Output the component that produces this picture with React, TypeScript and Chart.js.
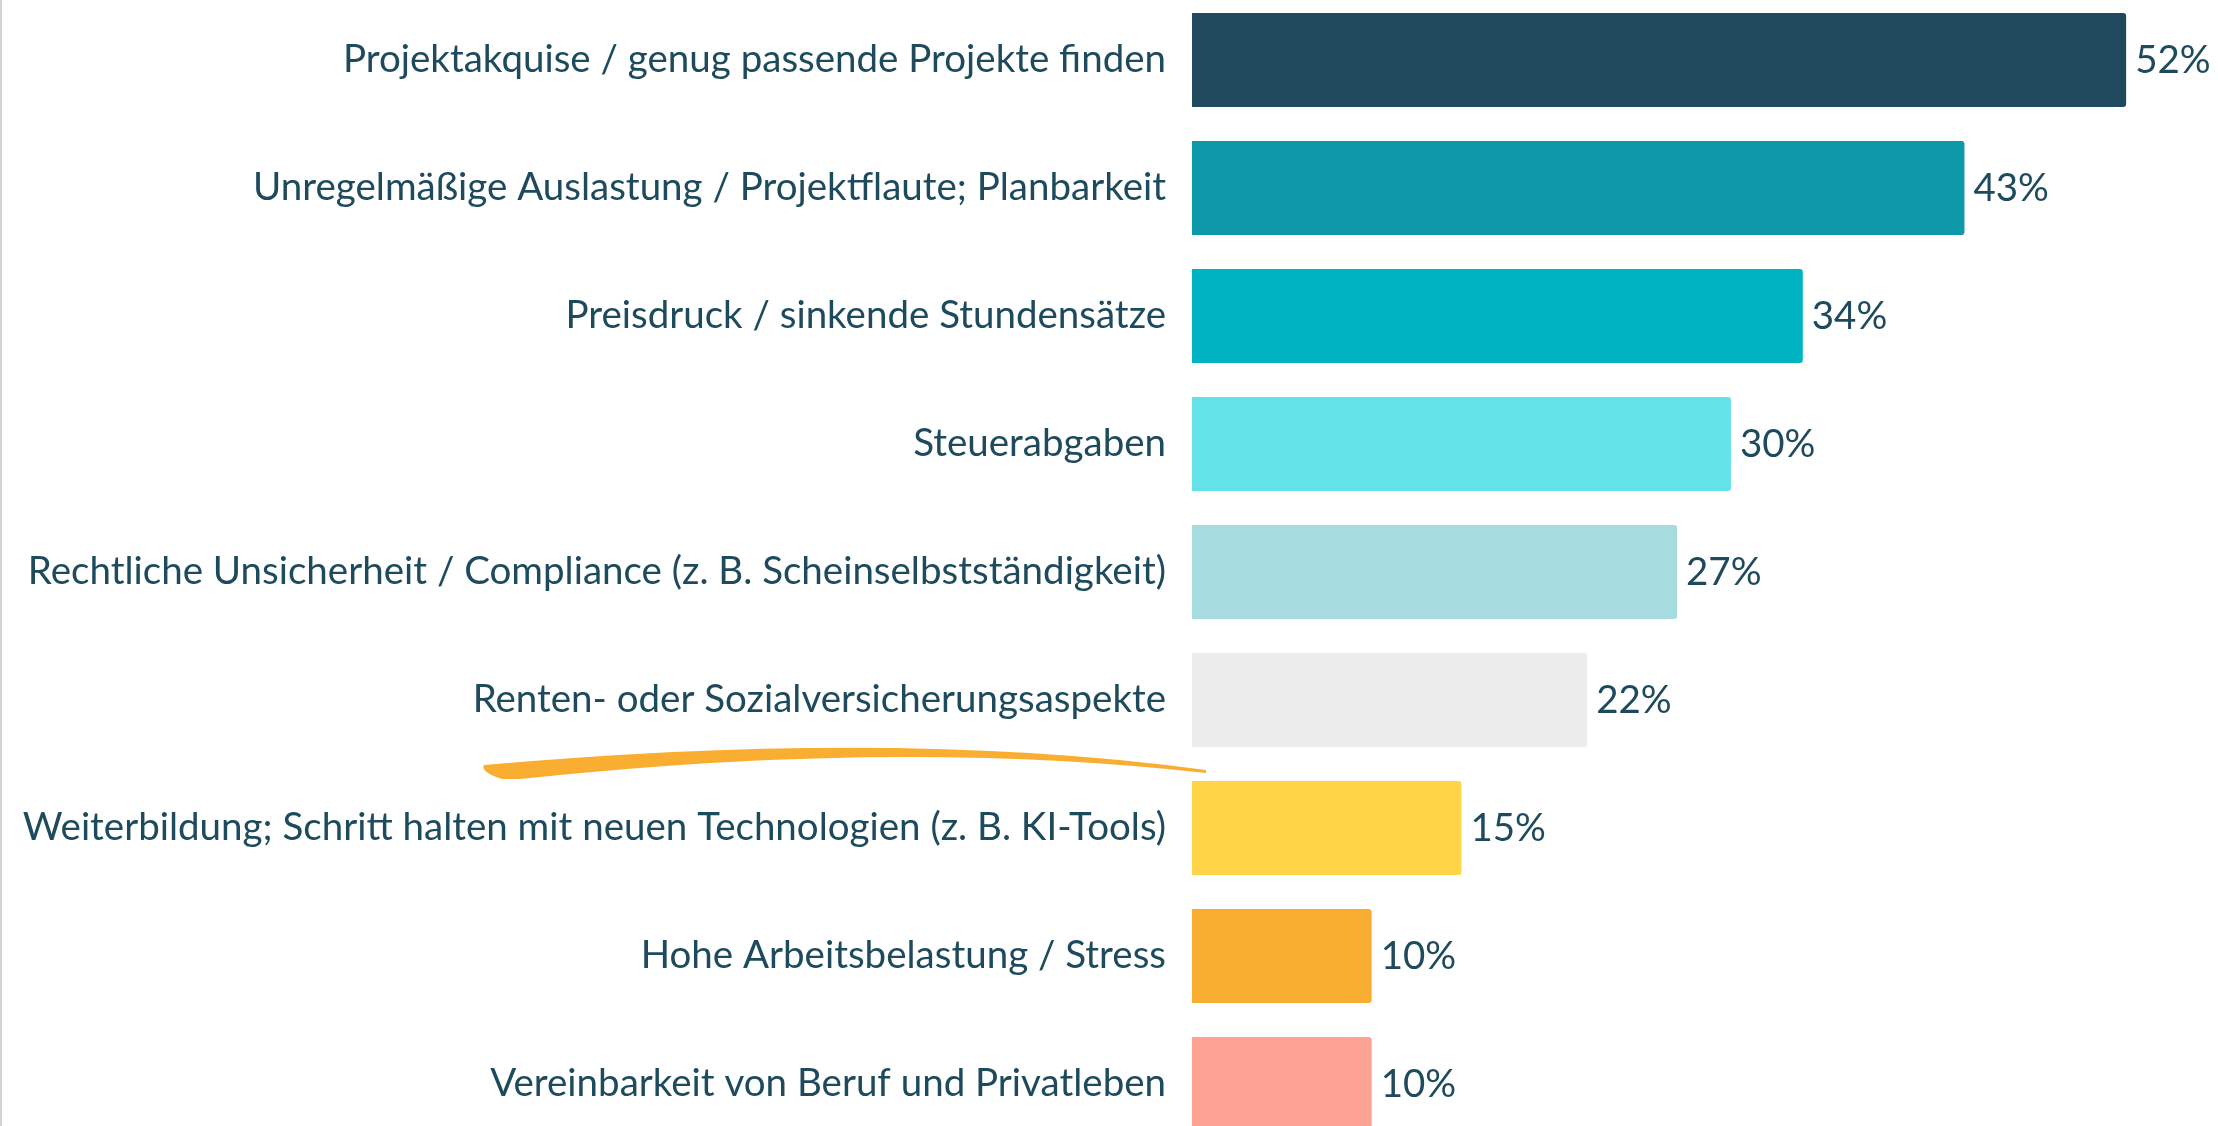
import React, { useEffect, useRef } from "react";
import { Chart, registerables } from "chart.js";

Chart.register(...registerables);

const categories: string[] = [
  "Projektakquise / genug passende Projekte finden",
  "Unregelmäßige Auslastung / Projektflaute; Planbarkeit",
  "Preisdruck / sinkende Stundensätze",
  "Steuerabgaben",
  "Rechtliche Unsicherheit / Compliance (z. B. Scheinselbstständigkeit)",
  "Renten- oder Sozialversicherungsaspekte",
  "Weiterbildung; Schritt halten mit neuen Technologien (z. B. KI-Tools)",
  "Hohe Arbeitsbelastung / Stress",
  "Vereinbarkeit von Beruf und Privatleben",
];

const values: number[] = [52, 43, 34, 30, 27, 22, 15, 10, 10];

const barColors: string[] = [
  "#21495d",
  "#0d99aa",
  "#00b3c3",
  "#63e3e8",
  "#a6dce0",
  "#ececec",
  "#ffd447",
  "#f9ae31",
  "#fea293",
];

const TEXT_COLOR = "#1e4a5e";
const FONT_FAMILY = "Lato, 'Noto Sans', sans-serif";
const FONT_SIZE = 38.5;

const valueLabelPlugin = {
  id: "valueLabels",
  afterDatasetsDraw(chart: any) {
    const ctx = chart.ctx;
    const meta = chart.getDatasetMeta(0);
    ctx.save();
    ctx.font = `${FONT_SIZE}px ${FONT_FAMILY}`;
    ctx.fillStyle = TEXT_COLOR;
    ctx.textAlign = "left";
    ctx.textBaseline = "middle";
    meta.data.forEach((bar: any, i: number) => {
      ctx.fillText(`${values[i]}%`, bar.x + 9, bar.y + 1);
    });
    ctx.restore();
  },
};

const decorPlugin = {
  id: "decor",
  afterDraw(chart: any) {
    const ctx = chart.ctx;
    const L = chart.chartArea.left;
    const yScale = chart.scales.y;
    const ym = (yScale.getPixelForValue(5) + yScale.getPixelForValue(6)) / 2;
    // brush stroke
    ctx.save();
    ctx.fillStyle = "#f9ae31";
    ctx.beginPath();
    ctx.moveTo(L - 708, ym + 1);
    ctx.quadraticCurveTo(L - 292, ym - 36, L + 14, ym + 6);
    ctx.lineTo(L + 14, ym + 9);
    ctx.quadraticCurveTo(L - 292, ym - 26, L - 672, ym + 15);
    ctx.lineTo(L - 690, ym + 15);
    ctx.quadraticCurveTo(L - 712, ym + 8, L - 708, ym + 1);
    ctx.closePath();
    ctx.fill();
    // faint left border line
    ctx.fillStyle = "#d2d2d2";
    ctx.fillRect(0, 0, 2, chart.height);
    ctx.restore();
  },
};

export default function App() {
  const canvasRef = useRef<HTMLCanvasElement | null>(null);

  useEffect(() => {
    if (!canvasRef.current) return;
    const chart = new Chart(canvasRef.current, {
      type: "bar",
      data: {
        labels: categories,
        datasets: [
          {
            data: values,
            backgroundColor: barColors,
            borderWidth: 0,
            borderRadius: 3,
            borderSkipped: "start",
            categoryPercentage: 1,
            barPercentage: 0.734,
          },
        ],
      },
      options: {
        indexAxis: "y",
        animation: false,
        responsive: true,
        maintainAspectRatio: false,
        layout: { padding: { left: 0, right: 20, top: 0, bottom: 0 } },
        plugins: {
          legend: { display: false },
          tooltip: { enabled: false },
          title: { display: false },
        },
        scales: {
          x: {
            display: false,
            min: 0,
            max: 56,
          },
          y: {
            grid: { display: false, drawTicks: false },
            border: { display: false },
            afterFit: (scale: any) => {
              scale.width = 1192;
              scale.paddingTop = 0;
              scale.paddingBottom = 0;
            },
            ticks: {
              padding: 26,
              color: TEXT_COLOR,
              font: { family: FONT_FAMILY, size: FONT_SIZE },
              autoSkip: false,
            },
          },
        },
      },
      plugins: [valueLabelPlugin, decorPlugin],
    });
    return () => chart.destroy();
  }, []);

  return (
    <div
      style={{
        position: "fixed",
        left: 0,
        top: -4,
        width: 2218,
        height: 1152,
        background: "#ffffff",
      }}
    >
      <canvas ref={canvasRef} />
    </div>
  );
}
